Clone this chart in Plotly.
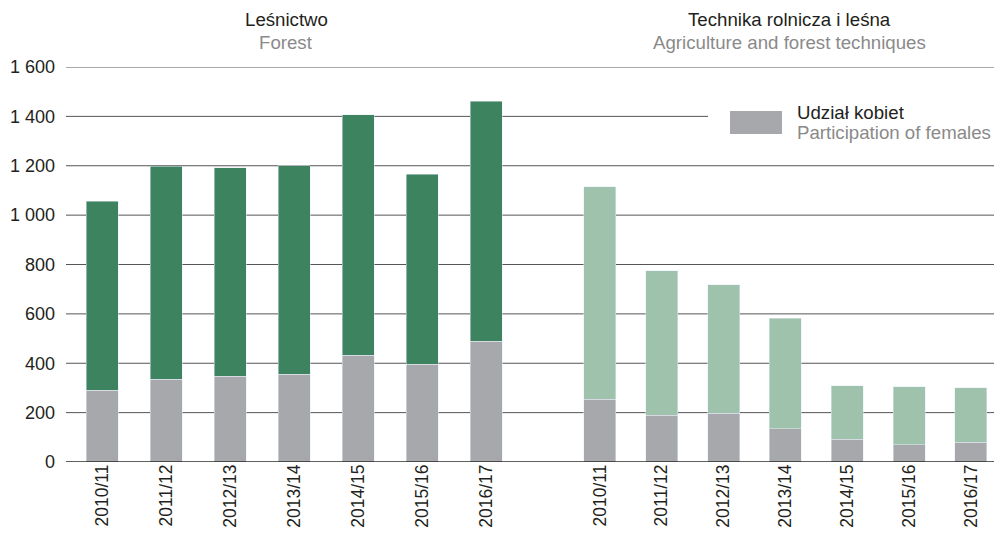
import plotly.graph_objects as go

# ---- data ----
seasons = ["2010/11", "2011/12", "2012/13", "2013/14", "2014/15", "2015/16", "2016/17"]
forest_total = [1057, 1198, 1191, 1200, 1406, 1166, 1462]
forest_female = [290, 335, 347, 355, 432, 396, 489]
agri_total = [1115, 775, 718, 583, 308, 305, 300]
agri_female = [255, 190, 198, 135, 92, 70, 80]
y_ticks = [0, 200, 400, 600, 800, 1000, 1200, 1400, 1600]
y_tick_labels = ["0", "200", "400", "600", "800", "1 000", "1 200", "1 400", "1 600"]

title_pl = ["Leśnictwo", "Technika rolnicza i leśna"]
title_en = ["Forest", "Agriculture and forest techniques"]
legend_pl = "Udział kobiet"
legend_en = "Participation of females"

# ---- style ----
W, H = 994, 538
ML, MR, MT, MB = 66, 0, 67, 76
PW = W - ML - MR
PH = H - MT - MB
DARK_GREEN = "#3d8360"
LIGHT_GREEN = "#9fc2ad"
GRAY = "#a7a8ac"
TXT = "#231f20"
TXT2 = "#8a8a8a"
FONT = "Liberation Sans, Arial, sans-serif"
BIG = 18.67

def px_x(p):
    return (p - ML) / PW

def px_y(p):
    return (H - MB - p) / PH

forest_rest = [t - f for t, f in zip(forest_total, forest_female)]
agri_rest = [t - f for t, f in zip(agri_total, agri_female)]

fig = go.Figure()
fig.add_trace(go.Bar(x=seasons, y=forest_female, marker_color=GRAY, width=0.5,
                     xaxis="x", yaxis="y", showlegend=False, hoverinfo="skip"))
fig.add_trace(go.Bar(x=seasons, y=forest_rest, marker_color=DARK_GREEN, width=0.5,
                     xaxis="x", yaxis="y", showlegend=False, hoverinfo="skip"))
fig.add_trace(go.Bar(x=seasons, y=agri_female, marker_color=GRAY, width=0.5175,
                     xaxis="x2", yaxis="y", showlegend=False, hoverinfo="skip"))
fig.add_trace(go.Bar(x=seasons, y=agri_rest, marker_color=LIGHT_GREEN, width=0.5175,
                     xaxis="x2", yaxis="y", showlegend=False, hoverinfo="skip"))

shapes = []
for v in y_ticks:
    shapes.append(dict(type="line", xref="paper", yref="y", x0=0, x1=1, y0=v, y1=v,
                       line=dict(color="#2a2a2a" if v == 0 else "#555555",
                                 width=1.6 if v == 0 else 1),
                       layer="below" if v != 0 else "above"))
# legend background + swatch
shapes.append(dict(type="rect", xref="paper", yref="paper",
                   x0=px_x(708), x1=1, y0=px_y(146), y1=px_y(100),
                   fillcolor="white", line=dict(width=0), layer="above"))
shapes.append(dict(type="rect", xref="paper", yref="paper",
                   x0=px_x(730), x1=px_x(782), y0=px_y(134), y1=px_y(111),
                   fillcolor=GRAY, line=dict(width=0), layer="above"))

annotations = []
centers = [286, 789]
for c, pl, en in zip(centers, title_pl, title_en):
    annotations.append(dict(text=pl, x=px_x(c), y=px_y(19), xref="paper", yref="paper",
                            showarrow=False, xanchor="center", yanchor="middle",
                            font=dict(size=BIG, color=TXT, family=FONT)))
    annotations.append(dict(text=en, x=px_x(c), y=px_y(43), xref="paper", yref="paper",
                            showarrow=False, xanchor="center", yanchor="middle",
                            font=dict(size=BIG, color=TXT2, family=FONT)))
annotations.append(dict(text=legend_pl, x=px_x(795), y=px_y(112), xref="paper", yref="paper",
                        showarrow=False, xanchor="left", yanchor="middle",
                        font=dict(size=BIG, color=TXT, family=FONT)))
annotations.append(dict(text=legend_en, x=px_x(795), y=px_y(132), xref="paper", yref="paper",
                        showarrow=False, xanchor="left", yanchor="middle",
                        font=dict(size=BIG, color=TXT2, family=FONT)))

fig.update_layout(
    width=W, height=H,
    margin=dict(l=ML, r=MR, t=MT, b=MB, pad=0),
    paper_bgcolor="white", plot_bgcolor="white",
    barmode="stack",
    showlegend=False,
    font=dict(family=FONT, color=TXT),
    xaxis=dict(domain=[0, px_x(518)], range=[-0.5625, 6.5], type="category",
               tickangle=-90, tickfont=dict(size=17.5, color=TXT), showgrid=False,
               showline=False, zeroline=False, ticks="", ticklabelstandoff=-2, fixedrange=True),
    xaxis2=dict(domain=[px_x(569), 1], range=[-0.5, 6.374], type="category",
                anchor="y", tickangle=-90, tickfont=dict(size=17.5, color=TXT), showgrid=False,
                showline=False, zeroline=False, ticks="", ticklabelstandoff=-2, fixedrange=True),
    yaxis=dict(range=[0, 1600], tickvals=y_ticks, ticktext=y_tick_labels,
               tickfont=dict(size=18, color=TXT), showgrid=False, zeroline=False,
               showline=False, ticks="", ticklabelstandoff=10, fixedrange=True),
    shapes=shapes,
    annotations=annotations,
)

fig.write_html("out.html", config={"displayModeBar": False},
               post_script="document.body.style.margin='0';document.body.style.padding='0';")
